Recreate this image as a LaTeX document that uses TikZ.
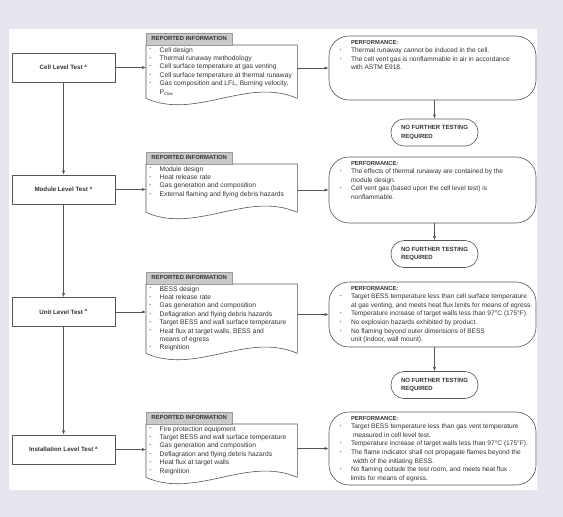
\documentclass[tikz,border=0pt]{standalone}
\usepackage{fontspec}
\setmainfont{Liberation Sans}
\usepackage{tikz}
\usetikzlibrary{positioning, arrows.meta, calc}
\definecolor{paperbg}{HTML}{E8E5EE}
\definecolor{flowline}{HTML}{555555}
\definecolor{flowtext}{HTML}{333333}
\definecolor{tabfill}{HTML}{C9C9C9}
\newcommand{\bul}{\raisebox{0.3ex}{\fontsize{4}{4}\selectfont\textbullet}}
\newcommand{\ditem}{\par\hangindent=12pt\hangafter=1\noindent\makebox[12pt][l]{\hspace{2pt}\bul}}
\newcommand{\pitem}{\par\hangindent=22pt\hangafter=1\noindent\makebox[22pt][l]{\hspace{11pt}\bul}}
\newcommand{\perfhd}{\noindent\hspace*{22pt}{\bfseries\fontsize{5.8}{8.6}\selectfont PERFORMANCE:}}

\begin{document}
\begin{tikzpicture}[x=1pt, y=-1pt, font=\fontsize{6.7}{8.4}\selectfont, text=flowtext,
  lvl/.style={draw=flowline, line width=0.6pt, fill=white, minimum width=103pt, minimum height=29pt, inner sep=0pt, font=\fontsize{6.2}{7}\selectfont\bfseries},
  tabhd/.style={draw=flowline!60, fill=tabfill, anchor=south west, minimum width=86pt, minimum height=12pt, inner sep=0pt, font=\fontsize{5.9}{7}\selectfont\bfseries},
  doc/.style={anchor=north west, inner xsep=1.5pt, inner ysep=2pt},
  perf/.style={draw=flowline, line width=0.6pt, rounded corners=20pt, inner xsep=0pt, inner ysep=4pt, minimum width=207pt, font=\fontsize{6.6}{8.6}\selectfont},
  nf/.style={draw=flowline, line width=0.6pt, rounded corners=13pt, minimum width=87pt, minimum height=27pt, align=left, font=\fontsize{6}{8.6}\selectfont\bfseries},
  arr/.style={-{Latex[length=4pt,width=3pt]}, draw=flowline, line width=0.5pt}]
\path[use as bounding box, fill=paperbg] (0,0) rectangle (563,517);
\fill[white] (9,29) rectangle (537,490);

% test levels
\node[lvl] (cell) at (63.5,67.5) {Cell Level Test \textsuperscript{a}};
\node[lvl] (module) at (63.5,189.5) {Module Level Test \textsuperscript{a}};
\node[lvl] (unit) at (63.5,312) {Unit Level Test \textsuperscript{a}};
\node[lvl] (install) at (63.5,449.5) {Installation Level Test \textsuperscript{a}};

% reported information
\node[doc] (doc1) at (146,45) {\parbox[c][49pt][t]{148pt}{%
  \ditem Cell design
  \ditem Thermal runaway methodology
  \ditem Cell surface temperature at gas venting
  \ditem Cell surface temperature at thermal runaway
  \ditem Gas composition and LFL, Burning velocity,\\P\textsubscript{max}}};
\node[doc] (doc2) at (146,164) {\parbox[c][44pt][t]{148pt}{%
  \ditem Module design
  \ditem Heat release rate
  \ditem Gas generation and composition
  \ditem External flaming and flying debris hazards}};
\node[doc] (doc3) at (146,284) {\parbox[c][65pt][t]{148pt}{%
  \ditem BESS design
  \ditem Heat release rate
  \ditem Gas generation and composition
  \ditem Deflagration and flying debris hazards
  \ditem Target BESS and wall surface temperature
  \ditem Heat flux at target walls, BESS and\\means of egress
  \ditem Reignition}};
\node[doc] (doc4) at (146,424) {\parbox[c][49pt][t]{148pt}{%
  \ditem Fire protection equipment
  \ditem Target BESS and wall surface temperature
  \ditem Gas generation and composition
  \ditem Deflagration and flying debris hazards
  \ditem Heat flux at target walls
  \ditem Reignition}};
\foreach \d in {doc1,doc2,doc3,doc4}{
  \draw[flowline, line width=0.6pt] (\d.south east) -- (\d.north east) -- (\d.north west) -- (\d.south west)
    .. controls ([shift={(50,22)}]\d.south west) and ([shift={(-50,-22)}]\d.south east) .. (\d.south east);
  \node[tabhd] (tab\d) at (\d.north west) {REPORTED INFORMATION};
}

% performance
\node[perf, minimum height=64pt] (perf1) at (432.5,68) {\parbox[c][56pt][t]{207pt}{\perfhd
  \pitem Thermal runaway cannot be induced in the cell.
  \pitem The cell vent gas is nonflammable in air in accordance\\with ASTM E918.}};
\node[perf, minimum height=66pt] (perf2) at (432.5,190) {\parbox[c][58pt][t]{207pt}{\perfhd
  \pitem The effects of thermal runaway are contained by the\\module design.
  \pitem Cell vent gas (based upon the cell level test) is\\nonflammable.}};
\node[perf, minimum height=65pt] (perf3) at (432.5,314.5) {\parbox[c][57pt][t]{207pt}{\perfhd
  \pitem Target BESS temperature less than cell surface temperature\\at gas venting, and meets heat flux limits for means of egress.
  \pitem Temperature increase of target walls less than 97°C (175°F).
  \pitem No explosion hazards exhibited by product.
  \pitem No flaming beyond outer dimensions of BESS\\unit (indoor, wall mount).}};
\node[perf, minimum height=73pt] (perf4) at (432.5,448.5) {\parbox[c][65pt][t]{207pt}{\perfhd
  \pitem Target BESS temperature less than gas vent temperature\\\hspace*{2pt}measured in cell level test.
  \pitem Temperature increase of target walls less than 97°C (175°F).
  \pitem The flame indicator shall not propagate flames beyond the\\\hspace*{2pt}width of the initiating BESS.
  \pitem No flaming outside the test room, and meets heat flux\\limits for means of egress.}};

\node[nf] (nf1) at (434.5,132.5) {NO FURTHER TESTING\\REQUIRED};
\node[nf] (nf2) at (434.5,254) {NO FURTHER TESTING\\REQUIRED};
\node[nf] (nf3) at (434.5,385) {NO FURTHER TESTING\\REQUIRED};

% connectors
\draw[arr] (cell) -- (module);
\draw[arr] (module) -- (unit);
\draw[arr] (unit) -- (install);
\foreach \a/\b/\c in {cell/doc1/perf1, module/doc2/perf2, unit/doc3/perf3, install/doc4/perf4}{
  \draw[arr] (\a.east) -- (\a.east -| \b.west);
  \draw[arr] (\c.west -| \b.east) -- (\c.west);
}
\foreach \c/\n in {perf1/nf1, perf2/nf2, perf3/nf3}
  \draw[arr] (\n.north |- \c.south) -- (\n.north);

\end{tikzpicture}
\end{document}
